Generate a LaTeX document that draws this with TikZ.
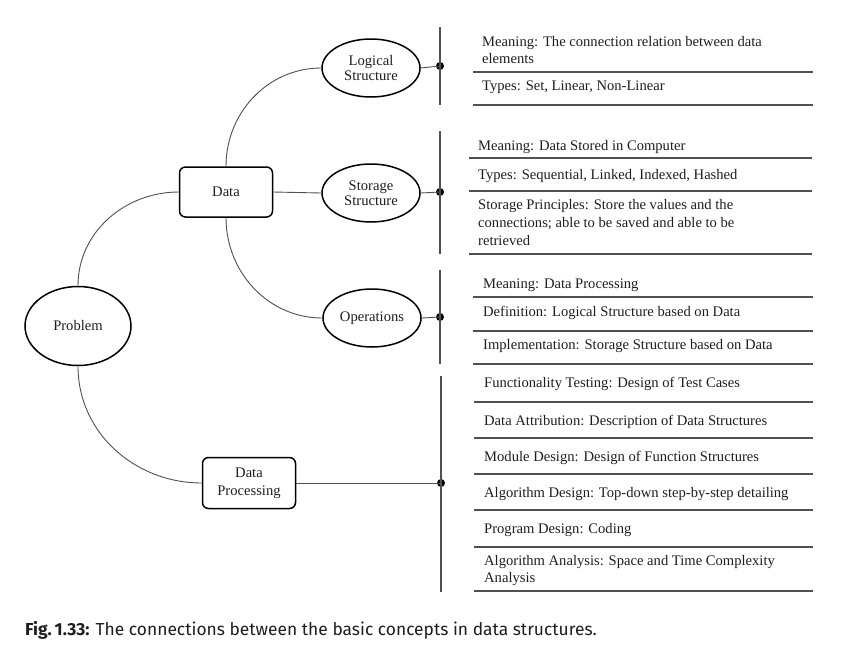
\documentclass[tikz,border=0pt]{standalone}
\usepackage{fontspec}
\setmainfont{Liberation Serif}
\newfontfamily\capfont{Fira Sans}
\usetikzlibrary{shapes.geometric}
\definecolor{linegray}{HTML}{505050}
\definecolor{txt}{HTML}{1E1E1E}
\tikzset{
  ell/.style={ellipse, draw=black, line width=1.5pt, minimum width=98pt, minimum height=58pt, inner sep=0pt, align=center, font=\fontsize{14.6}{15}\selectfont, text=txt},
  rbox/.style={rectangle, rounded corners=6pt, draw=black, line width=1.5pt, minimum width=93pt, minimum height=50pt, inner sep=0pt, align=center, font=\fontsize{14.6}{18}\selectfont, text=txt},
  conn/.style={draw=linegray, line width=0.9pt},
  vbar/.style={draw=linegray, line width=1.3pt},
  sep/.style={draw=linegray, line width=1.3pt},
  dot/.style={circle, fill=black, inner sep=0pt, minimum size=8pt},
  row/.style={anchor=base west, inner sep=0pt, align=left, font=\fontsize{14.6}{17}\selectfont, text=txt},
}
\begin{document}
\begin{tikzpicture}[x=1pt,y=-1pt]
\useasboundingbox (0,0) rectangle (861,656);
% nodes
\node[ell, minimum width=106pt, minimum height=79pt] (prob) at (78,326) {Problem};
\node[rbox] (data) at (226,192) {Data};
\node[rbox, minimum height=51pt] (dp) at (249,483) {Data\\Processing};
\node[ell] (log) at (371,68) {Logical\\Structure};
\node[ell] (sto) at (371,193) {Storage\\Structure};
\node[ell] (ops) at (372,318) {Operations};
% dots
\node[dot] (d1) at (440,66) {};
\node[dot] (d2) at (440,192) {};
\node[dot] (d3) at (440,317) {};
\node[dot] (d4) at (441,483) {};
% vertical bars
\coordinate (v1t) at (440,27); \coordinate (v1b) at (440,105);
\coordinate (v2t) at (440,131); \coordinate (v2b) at (440,254);
\coordinate (v3t) at (440,270); \coordinate (v3b) at (440,364);
\coordinate (v4t) at (441,376); \coordinate (v4b) at (441,592);
\draw[vbar] (v1t) -- (v1b);
\draw[vbar] (v2t) -- (v2b);
\draw[vbar] (v3t) -- (v3b);
\draw[vbar] (v4t) -- (v4b);
% connectors
\draw[conn] (prob.north) to[out=90,in=180] (data.west);
\draw[conn] (data.north) to[out=90,in=180] (log.west);
\draw[conn] (data.east) -- (sto.west);
\draw[conn] (data.south) to[out=-90,in=180] (ops.west);
\draw[conn] (prob.south) to[out=-90,in=180] (dp.west);
\draw[conn] (log.east) -- (d1.center);
\draw[conn] (sto.east) -- (d2.center);
\draw[conn] (ops.east) -- (d3.center);
\draw[conn] (dp.east) -- (d4.center);
% group 1
\node[row] (t11) at (482,63) {Meaning: The connection relation between data\\elements};
\node[row] (t12) at (482,90.5) {Types: Set, Linear, Non-Linear};
\draw[sep] (473,72) -- (813,72);
\draw[sep] (473,105) -- (813,105);
% group 2
\node[row] (t21) at (478,150.5) {Meaning: Data Stored in Computer};
\node[row] (t22) at (478,179.5) {Types: Sequential, Linked, Indexed, Hashed};
\node[row, font=\fontsize{14.6}{18}\selectfont] (t23) at (478,245.5) {Storage Principles: Store the values and the\\connections; able to be saved and able to be\\retrieved};
\draw[sep] (469,158) -- (812,158);
\draw[sep] (469,191) -- (812,191);
\draw[sep] (469,254) -- (812,254);
% group 3
\node[row] (t31) at (483,288.5) {Meaning: Data Processing};
\node[row] (t32) at (483,316.5) {Definition: Logical Structure based on Data};
\node[row] (t33) at (483,349.5) {Implementation: Storage Structure based on Data};
\draw[sep] (473,297) -- (813,297);
\draw[sep] (473,331) -- (813,331);
\draw[sep] (473,364) -- (813,364);
% group 4
\node[row] (t41) at (484,387.5) {Functionality Testing: Design of Test Cases};
\node[row] (t42) at (484,425.5) {Data Attribution: Description of Data Structures};
\node[row] (t43) at (484,461.5) {Module Design: Design of Function Structures};
\node[row] (t44) at (484,497.5) {Algorithm Design: Top-down step-by-step detailing};
\node[row] (t45) at (484,533.5) {Program Design: Coding};
\node[row] (t46) at (484,582.5) {Algorithm Analysis: Space and Time Complexity\\Analysis};
\draw[sep] (474,402) -- (813,402);
\draw[sep] (474,438) -- (813,438);
\draw[sep] (474,474) -- (813,474);
\draw[sep] (474,510) -- (813,510);
\draw[sep] (474,547) -- (813,547);
\draw[sep] (474,591) -- (813,591);
% caption
\node[anchor=base west, inner sep=0pt, font=\capfont\fontsize{17.4}{20}\selectfont, text=txt] (cap) at (25,635) {\textbf{Fig.\,1.33:} The connections between the basic concepts in data structures.};
\end{tikzpicture}
\end{document}
